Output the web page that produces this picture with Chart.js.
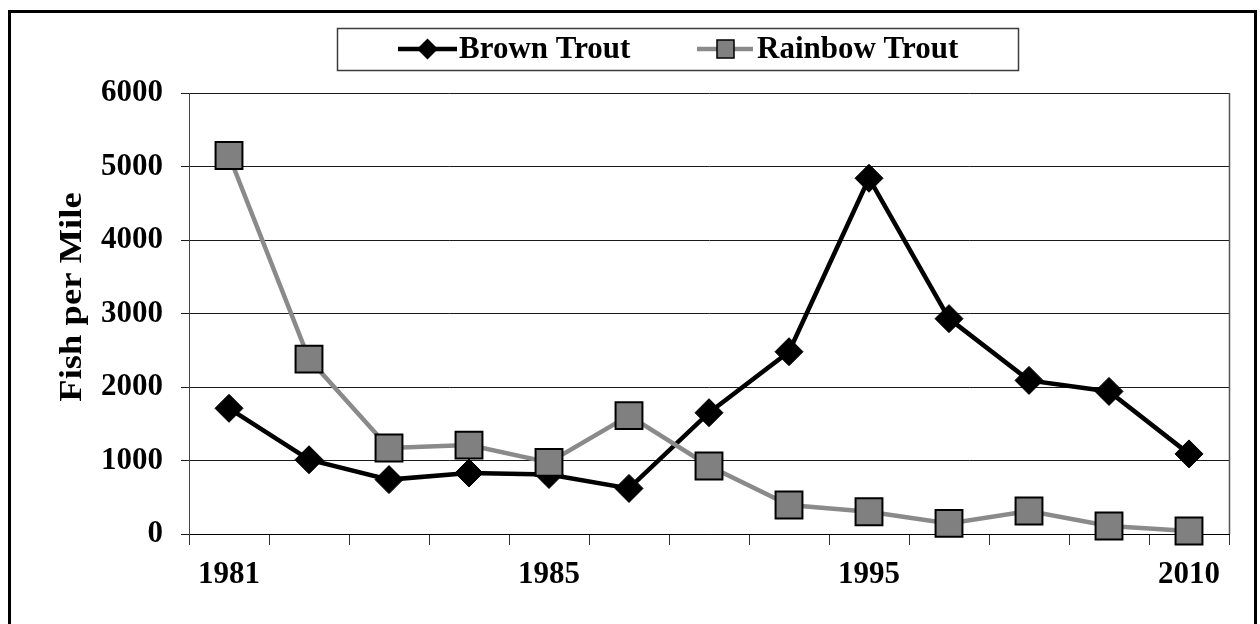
<!DOCTYPE html>
<html><head><meta charset="utf-8">
<script src="https://cdn.jsdelivr.net/npm/chart.js@4.4.1/dist/chart.umd.min.js"></script>
<style>html,body{margin:0;padding:0;background:#fff}#wrap{width:1260px;height:624px;position:relative}</style>
</head><body><div id="wrap"><canvas id="c" width="1260" height="624"></canvas></div>
<script>
const categories = ['1981','','','','1985','','','','1995','','','','2010'];
const brownTrout = [1710,1010,740,830,810,620,1650,2480,4840,2930,2090,1940,1090];
const rainbowTrout = [5150,2380,1170,1210,975,1610,925,395,303,144,313,109,41];
const seriesNames = ['Brown Trout','Rainbow Trout'];
const yAxisTitle = 'Fish per Mile';
const yMin = 0, yMax = 6000, yStep = 1000;
const FONT = '"Liberation Serif","Times New Roman",serif';

function diamond(ctx,x,y,r){ctx.beginPath();ctx.moveTo(x-r,y);ctx.lineTo(x,y-r);ctx.lineTo(x+r,y);ctx.lineTo(x,y+r);ctx.closePath();}

const decor = {
  id:'decor',
  beforeDraw(chart){const c=chart.ctx;c.save();c.fillStyle='#fff';c.fillRect(0,0,chart.width,chart.height);c.restore();},
  afterDraw(chart){
    const c=chart.ctx, a=chart.chartArea;
    c.save();
    // plot right border
    c.strokeStyle='#555';c.lineWidth=1.5;
    c.beginPath();c.moveTo(a.right+0.5,a.top);c.lineTo(a.right+0.5,a.bottom);c.stroke();
    // outer frame
    c.strokeStyle='#000';c.lineWidth=3;
    c.strokeRect(9.5,11.5,1246,640);
    // legend box
    c.strokeStyle='#3c3c3c';c.lineWidth=1.5;
    c.strokeRect(337.5,28.5,681,42);
    const ly=49;
    // brown item
    c.strokeStyle='#000';c.lineWidth=4.5;
    c.beginPath();c.moveTo(398,ly);c.lineTo(457,ly);c.stroke();
    c.fillStyle='#000';diamond(c,427.5,ly,10.5);c.fill();
    // rainbow item
    c.strokeStyle='#8a8a8a';c.lineWidth=4.5;
    c.beginPath();c.moveTo(697,ly);c.lineTo(753,ly);c.stroke();
    c.fillStyle='#808080';c.strokeStyle='#000';c.lineWidth=1.5;
    c.fillRect(717,ly-9,17,18);c.strokeRect(717,ly-9,17,18);
    c.fillStyle='#000';c.font='bold 31px '+FONT;c.textBaseline='middle';c.textAlign='left';
    c.fillText(seriesNames[0],459,ly+1);
    c.fillText(seriesNames[1],757,ly+1);
    // y title
    c.translate(73,297);c.rotate(-Math.PI/2);c.scale(1.18,1);
    c.font='bold 31px '+FONT;c.textAlign='center';c.textBaseline='middle';
    c.fillText(yAxisTitle,0,0);
    c.restore();
  }
};

new Chart(document.getElementById('c'),{
  type:'line',
  data:{labels:categories,datasets:[
    {label:seriesNames[0],data:brownTrout,borderColor:'#000',borderWidth:4.5,pointStyle:'rectRot',pointRadius:14,
     pointBackgroundColor:'#000',pointBorderColor:'#000',pointBorderWidth:1,tension:0,order:1,clip:false},
    {label:seriesNames[1],data:rainbowTrout,borderColor:'#8a8a8a',borderWidth:4.5,pointStyle:'rect',pointRadius:19,
     pointBackgroundColor:'#808080',pointBorderColor:'#000',pointBorderWidth:2,tension:0,order:0,clip:false}
  ]},
  options:{
    responsive:false,animation:false,
    layout:{padding:{left:0,top:93,right:31,bottom:0}},
    plugins:{legend:{display:false},tooltip:{enabled:false}},
    scales:{
      x:{type:'category',offset:true,
        grid:{offset:true,drawOnChartArea:false,tickLength:11,color:'#333',lineWidth:1},
        border:{display:true,color:'#000',width:1},
        ticks:{autoSkip:false,maxRotation:0,minRotation:0,padding:11,color:'#000',font:{family:FONT,size:31,weight:'bold'}},
        afterFit(s){s.height=90;}
      },
      y:{min:yMin,max:yMax,
        ticks:{stepSize:yStep,padding:18,color:'#000',font:{family:FONT,size:31,weight:'bold'},
          callback:(v)=>String(v)},
        grid:{color:'#1a1a1a',lineWidth:1,tickLength:8},
        border:{display:true,color:'#444',width:1},
        afterFit(s){s.width=189;}
      }
    }
  },
  plugins:[decor]
});
</script></body></html>
